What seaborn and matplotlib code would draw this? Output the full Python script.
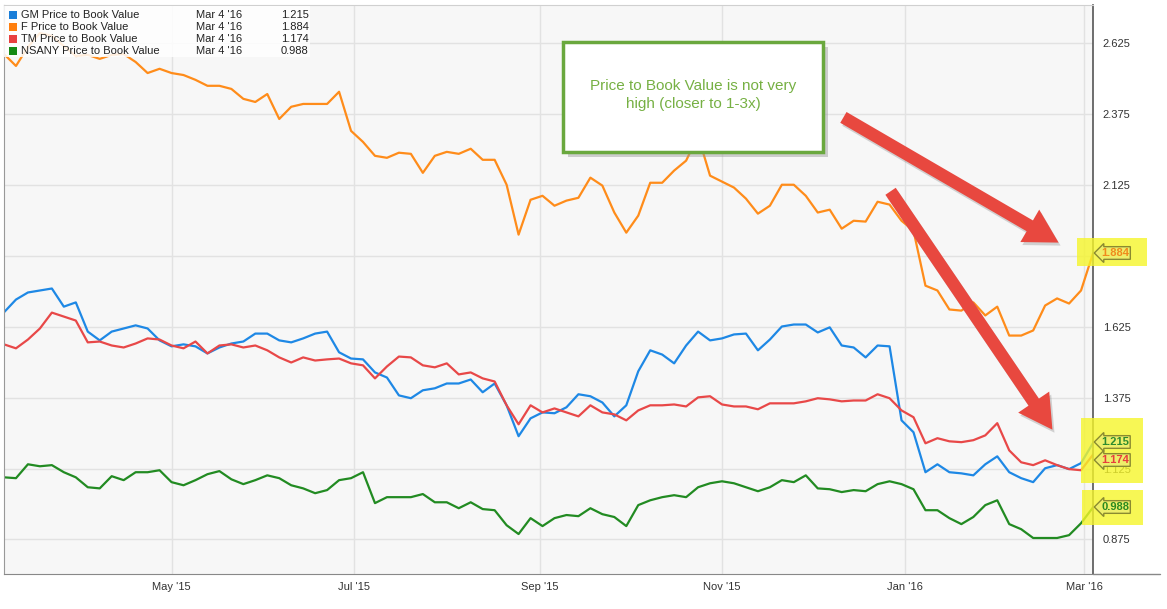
import numpy as np
import pandas as pd
import matplotlib
matplotlib.use("Agg")
import matplotlib.pyplot as plt
from matplotlib.patches import Rectangle, FancyArrowPatch
from matplotlib.lines import Line2D
import seaborn as sns

# price to book value, sampled every 4 days from 2015-03-06 to 2016-03-04
dates = pd.date_range("2015-03-06", "2016-03-04", freq="4D")

gm = [1.676, 1.721, 1.746, 1.753, 1.760, 1.696, 1.711, 1.608, 1.577, 1.608,
      1.619, 1.630, 1.619, 1.577, 1.556, 1.563, 1.556, 1.531, 1.552, 1.566,
      1.573, 1.601, 1.601, 1.577, 1.570, 1.584, 1.601, 1.608, 1.535, 1.513,
      1.510, 1.464, 1.446, 1.383, 1.373, 1.401, 1.408, 1.425, 1.425, 1.439,
      1.394, 1.425, 1.348, 1.239, 1.302, 1.323, 1.320, 1.341, 1.387, 1.380,
      1.358, 1.309, 1.348, 1.468, 1.542, 1.527, 1.496, 1.559, 1.608, 1.577,
      1.584, 1.598, 1.601, 1.542, 1.580, 1.626, 1.633, 1.633, 1.605, 1.623,
      1.559, 1.552, 1.517, 1.559, 1.556, 1.295, 1.253, 1.112, 1.140, 1.112,
      1.108, 1.101, 1.140, 1.168, 1.112, 1.091, 1.077, 1.126, 1.137, 1.123,
      1.144, 1.215]

ford = [2.587, 2.545, 2.612, 2.661, 2.651, 2.615, 2.580, 2.584, 2.570, 2.584,
        2.587, 2.559, 2.520, 2.535, 2.520, 2.513, 2.496, 2.475, 2.475, 2.464,
        2.429, 2.418, 2.446, 2.358, 2.401, 2.411, 2.411, 2.411, 2.454, 2.316,
        2.277, 2.228, 2.221, 2.239, 2.235, 2.168, 2.228, 2.242, 2.235, 2.253,
        2.214, 2.214, 2.126, 1.950, 2.073, 2.087, 2.052, 2.070, 2.080, 2.151,
        2.123, 2.028, 1.957, 2.017, 2.133, 2.133, 2.176, 2.211, 2.299, 2.158,
        2.137, 2.116, 2.077, 2.024, 2.052, 2.126, 2.126, 2.087, 2.028, 2.038,
        1.971, 1.999, 1.996, 2.066, 2.056, 1.999, 1.964, 1.770, 1.753, 1.686,
        1.682, 1.711, 1.665, 1.696, 1.594, 1.594, 1.612, 1.700, 1.725, 1.707,
        1.753, 1.884]

tm = [1.563, 1.549, 1.580, 1.619, 1.675, 1.661, 1.647, 1.570, 1.573, 1.559,
      1.552, 1.566, 1.584, 1.580, 1.559, 1.549, 1.573, 1.531, 1.559, 1.563,
      1.552, 1.559, 1.542, 1.517, 1.499, 1.517, 1.506, 1.510, 1.513, 1.496,
      1.489, 1.443, 1.485, 1.520, 1.517, 1.489, 1.482, 1.496, 1.457, 1.464,
      1.443, 1.432, 1.348, 1.281, 1.348, 1.323, 1.337, 1.323, 1.309, 1.348,
      1.323, 1.316, 1.295, 1.330, 1.348, 1.348, 1.351, 1.344, 1.376, 1.380,
      1.351, 1.344, 1.344, 1.334, 1.355, 1.355, 1.355, 1.362, 1.373, 1.369,
      1.362, 1.365, 1.365, 1.387, 1.373, 1.330, 1.306, 1.214, 1.232, 1.221,
      1.218, 1.225, 1.242, 1.285, 1.189, 1.147, 1.137, 1.154, 1.137, 1.123,
      1.119, 1.174]

nsany = [1.094, 1.091, 1.140, 1.133, 1.137, 1.112, 1.094, 1.059, 1.055, 1.098,
         1.084, 1.112, 1.112, 1.119, 1.077, 1.066, 1.084, 1.105, 1.116, 1.087,
         1.070, 1.084, 1.101, 1.091, 1.066, 1.055, 1.038, 1.049, 1.084, 1.091,
         1.112, 1.003, 1.024, 1.024, 1.024, 1.035, 1.006, 1.006, 0.985, 1.006,
         0.982, 0.978, 0.925, 0.894, 0.950, 0.922, 0.950, 0.961, 0.957, 0.985,
         0.964, 0.954, 0.922, 0.996, 1.013, 1.024, 1.031, 1.024, 1.059, 1.073,
         1.080, 1.073, 1.059, 1.045, 1.059, 1.084, 1.077, 1.101, 1.055, 1.052,
         1.042, 1.049, 1.045, 1.070, 1.080, 1.070, 1.052, 0.978, 0.978, 0.950,
         0.929, 0.954, 0.996, 1.013, 0.929, 0.911, 0.880, 0.880, 0.880, 0.890,
         0.932, 0.988]

series_names = ["GM Price to Book Value", "F Price to Book Value",
                "TM Price to Book Value", "NSANY Price to Book Value"]
last_date = "Mar 4 '16"
last_values = ["1.215", "1.884", "1.174", "0.988"]
line_colors = ["#1e88e5", "#ff8c1a", "#e84848", "#228b22"]
legend_colors = ["#1a7ed8", "#ff7f0e", "#e84040", "#158a15"]

y_ticks = [0.875, 1.125, 1.375, 1.625, 1.875, 2.125, 2.375, 2.625]
# the 1.875 label sits under the F value tag in the original
y_labels = ["0.875", "1.125", "1.375", "1.625", "", "2.125", "2.375", "2.625"]
x_ticks = ["2015-05-01", "2015-07-01", "2015-09-01", "2015-11-01", "2016-01-01", "2016-03-01"]
x_labels = ["May '15", "Jul '15", "Sep '15", "Nov '15", "Jan '16", "Mar '16"]

df = pd.concat([
    pd.DataFrame({"date": dates, "value": vals, "series": name})
    for name, vals in zip(series_names, [gm, ford, tm, nsany])
])

sns.set_style("white")
plt.rcParams["font.family"] = ["Liberation Sans", "DejaVu Sans"]

W, H = 1167, 609
fig = plt.figure(figsize=(W / 100, H / 100), dpi=100)
fig.patch.set_facecolor("white")


def fx(x):
    return x / W


def fy(y):
    return 1 - y / H


ax = fig.add_axes([fx(4), fy(574), (1093 - 4) / W, (574 - 5) / H])
ax.set_facecolor("#f7f7f7")

sns.lineplot(data=df, x="date", y="value", hue="series", hue_order=series_names,
             palette=line_colors, linewidth=1.6, legend=False, ax=ax)

ax.set_xlim(pd.Timestamp("2015-03-06"), pd.Timestamp("2016-03-04"))
ax.set_ylim(0.753, 2.760)
ax.set_xticks(pd.to_datetime(x_ticks))
ax.set_xticklabels(x_labels)
ax.set_yticks(y_ticks)
ax.set_yticklabels(y_labels)
ax.yaxis.tick_right()
ax.tick_params(axis="both", length=0, labelsize=8, labelcolor="#333333")
ax.tick_params(axis="y", pad=7)
ax.tick_params(axis="x", pad=6)
ax.set_xlabel("")
ax.set_ylabel("")
ax.grid(True, color="#e2e2e2", linewidth=1)
ax.set_axisbelow(True)
ax.spines["left"].set_color("#999999")
ax.spines["bottom"].set_color("#888888")
ax.spines["top"].set_color("#d0d0d0")
ax.spines["right"].set_color("#555555")
ax.spines["right"].set_linewidth(1.2)
fig.add_artist(Line2D([fx(1093), fx(1160)], [fy(574), fy(574)], color="#888888", lw=1))

# legend panel
fig.add_artist(Rectangle((fx(4), fy(57)), fx(306), 51 / H, transform=fig.transFigure,
                         facecolor="white", alpha=0.85, edgecolor="none"))
for i, (name, col, val) in enumerate(zip(series_names, legend_colors, last_values)):
    yy = 15 + 12 * i
    fig.add_artist(Rectangle((fx(9), fy(yy + 4)), 8 / W, 8 / H, transform=fig.transFigure,
                             facecolor=col, edgecolor="none"))
    fig.text(fx(21), fy(yy), name, fontsize=8, color="#222222", va="center")
    fig.text(fx(196), fy(yy), last_date, fontsize=8, color="#222222", va="center")
    fig.text(fx(281), fy(yy), val, fontsize=8, color="#222222", va="center")

# annotation box
fig.add_artist(Rectangle((fx(568), fy(157)), 260 / W, 110 / H, transform=fig.transFigure,
                         facecolor="#999999", alpha=0.45, edgecolor="none"))
fig.add_artist(Rectangle((fx(563), fy(152)), 260 / W, 110 / H, transform=fig.transFigure,
                         facecolor="white", edgecolor="#6aa83e", linewidth=2.5))
fig.text(fx(693), fy(95), "Price to Book Value is not very\nhigh (closer to 1-3x)",
         ha="center", va="center", fontsize=11, color="#76b043", linespacing=1.45)

# red arrows
arrow_style = "simple,head_width=27,head_length=24,tail_width=9"
for (x0, y0), (x1, y1) in [((841, 116), (1061, 244)), ((889, 189), (1054, 432))]:
    fig.add_artist(FancyArrowPatch((fx(x0 + 2), fy(y0 + 3)), (fx(x1 + 2), fy(y1 + 3)),
                                   transform=fig.transFigure, arrowstyle=arrow_style,
                                   mutation_scale=1, color="#888888", alpha=0.35, lw=0))
    fig.add_artist(FancyArrowPatch((fx(x0), fy(y0)), (fx(x1), fy(y1)),
                                   transform=fig.transFigure, arrowstyle=arrow_style,
                                   mutation_scale=1, color="#e8483f", lw=0))

# yellow highlights
for (x0, y0, x1, y1) in [(1077, 238, 1147, 266), (1081, 418, 1143, 483), (1082, 490, 1143, 525)]:
    fig.add_artist(Rectangle((fx(x0), fy(y1)), (x1 - x0) / W, (y1 - y0) / H,
                             transform=fig.transFigure, facecolor="#f5f52a",
                             alpha=0.8, edgecolor="none"))

# last value labels
label_specs = [(253, last_values[1], "#f08a1c"), (442, last_values[0], "#2e8b2e"),
               (460, last_values[2], "#e83c3c"), (507, last_values[3], "#2a8a20")]
for yy, txt, col in label_specs:
    fig.text(fx(1101), fy(yy), txt, fontsize=8, fontweight="bold", color=col,
             ha="left", va="center",
             bbox=dict(boxstyle="larrow,pad=0.12", facecolor="#eeee6a",
                       edgecolor="#8a8a30", linewidth=1))

fig.savefig("out.png", dpi=100)
